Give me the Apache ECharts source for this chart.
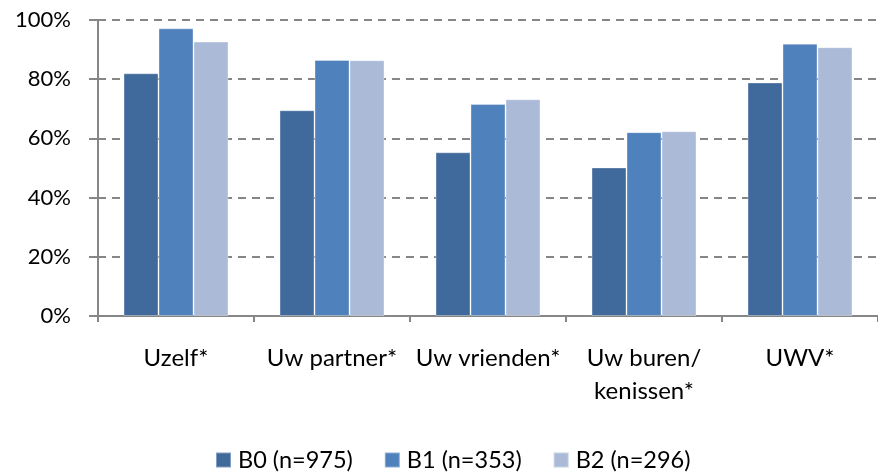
<!DOCTYPE html>
<html>
<head>
<meta charset="utf-8">
<script src="https://cdn.jsdelivr.net/npm/echarts@6/dist/echarts.min.js"></script>
<style>
  html, body { margin: 0; padding: 0; background: #fff; }
  #container { width: 878px; height: 476px; }
</style>
</head>
<body>
<div id="container"></div>
<script>
// chart data
var categories = ['Uzelf*', 'Uw partner*', 'Uw vrienden*', 'Uw buren/\nkenissen*', 'UWV*'];
var seriesNames = ['B0 (n=975)', 'B1 (n=353)', 'B2 (n=296)'];
var b0Values = [82.0, 69.5, 55.3, 50.2, 78.9];
var b1Values = [97.2, 86.5, 71.6, 62.1, 92.0];
var b2Values = [92.7, 86.4, 73.2, 62.4, 90.8];
var yTicks = [0, 20, 40, 60, 80, 100];

var colors = ['#416A9C', '#4F81BD', '#AABAD7'];
var fontFam = 'Lato, "Open Sans", sans-serif';

var dom = document.getElementById('container');
var myChart = echarts.init(dom);

function makeSeries(name, data, color) {
    return {
        name: name,
        type: 'bar',
        data: data,
        barWidth: 35,
        barGap: '0%',
        itemStyle: { color: color, borderColor: 'rgba(255,255,255,0.35)', borderWidth: 1 },
        emphasis: { disabled: true }
    };
}

var option = {
    animation: false,
    color: colors,
    grid: { left: 98, top: 20, bottom: 160, right: -6, containLabel: false },
    legend: {
        top: 443,
        left: 210,
        itemWidth: 15,
        itemHeight: 15,
        itemGap: 31,
        icon: 'rect',
        textStyle: { fontFamily: fontFam, fontSize: 23.5, color: '#000', padding: [0, 0, 0, 2] },
        data: seriesNames
    },
    xAxis: {
        type: 'category',
        data: categories,
        axisLine: { lineStyle: { color: '#868686', width: 2 } },
        axisTick: { show: true, length: 6, lineStyle: { color: '#868686', width: 2 } },
        axisLabel: {
            fontFamily: fontFam, fontSize: 24, color: '#000',
            margin: 26, lineHeight: 33, interval: 0
        }
    },
    yAxis: {
        type: 'value',
        min: yTicks[0],
        max: yTicks[yTicks.length - 1],
        interval: 20,
        axisLine: { show: true, lineStyle: { color: '#868686', width: 2 } },
        axisTick: { show: true, length: 9, lineStyle: { color: '#868686', width: 2 } },
        axisLabel: {
            fontFamily: fontFam, fontSize: 22, color: '#000', margin: 27,
            formatter: function (v) { return v + '%'; }
        },
        splitLine: { show: true, lineStyle: { color: '#868686', width: 2, type: [8, 6] } }
    },
    series: [
        makeSeries(seriesNames[0], b0Values, colors[0]),
        makeSeries(seriesNames[1], b1Values, colors[1]),
        makeSeries(seriesNames[2], b2Values, colors[2])
    ]
};
myChart.setOption(option);
</script>
</body>
</html>
